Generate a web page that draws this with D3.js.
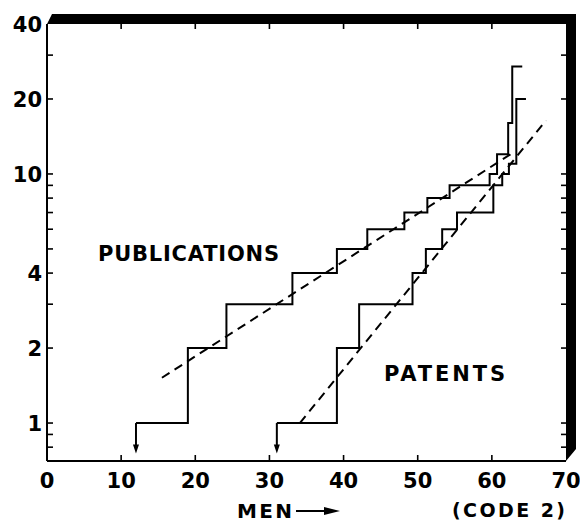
<!DOCTYPE html>
<html><head><meta charset="utf-8">
<script src="https://cdn.jsdelivr.net/npm/d3@7"></script>
<style>html,body{margin:0;padding:0;background:#fff;}svg{display:block;}</style>
</head><body>
<svg id="c" width="580" height="523"></svg>
<script>
// ---- data ----
const xTicks = [0, 10, 20, 30, 40, 50, 60, 70];
const yTickLabels = [1, 2, 4, 10, 20, 40];
const yMinorTicks = [0.8, 0.9, 3, 5, 6, 7, 8, 9, 30];
const pubX = [12, 19, 24.2, 33.1, 39.1, 43.2, 48.2, 51.3, 54.3, 59.7, 60.7, 62.2, 62.75];
const pubY = [1, 2, 3, 4, 5, 6, 7, 8, 9, 10, 12, 16, 27];
const pubEnd = 64.1;
const patX = [31, 39.1, 42.1, 49.3, 51.1, 53.3, 55.3, 60.2, 61.4, 62.3, 63.3];
const patY = [1, 2, 3, 4, 5, 6, 7, 9, 10, 11, 20];
const patEnd = 64.6;
const pubFitX = [15.5, 62.9];
const pubFitY = [1.52, 12.2];
const patFitX = [34.1, 67.3];
const patFitY = [1.0, 16.4];
const arrowTipY = 0.755;

// ---- scales ----
const svg = d3.select("#c");
const x = d3.scaleLinear().domain([0, 70]).range([47, 566]);
const y = d3.scaleLog().domain([0.704, 40]).range([461, 24]);
const X0 = x(0), X1 = x(70), YT = y(40), YB = y.range()[0];
const font = "'DejaVu Sans', sans-serif";

// frame: thick top and right bands with bevelled corners
svg.append("polygon")
  .attr("points", [[X0, YT], [X0 + 5, YT - 10], [X1 + 10, YT - 10], [X1 + 10, YB - 12], [X1, YB], [X1, YT]].map(p => p.join(",")).join(" "))
  .attr("fill", "#000");
svg.append("line").attr("x1", X0).attr("x2", X0).attr("y1", YT).attr("y2", YB).attr("stroke", "#000").attr("stroke-width", 2);
svg.append("line").attr("x1", X0).attr("x2", X1).attr("y1", YB).attr("y2", YB).attr("stroke", "#000").attr("stroke-width", 2);

// ticks
const inner = xTicks.filter(d => d > 0 && d < 70);
svg.selectAll(".tb").data(inner).join("line")
  .attr("x1", d => x(d)).attr("x2", d => x(d)).attr("y1", YB).attr("y2", YB - 6)
  .attr("stroke", "#000").attr("stroke-width", 1.6);
svg.selectAll(".tt").data(inner).join("line")
  .attr("x1", d => x(d)).attr("x2", d => x(d)).attr("y1", YT).attr("y2", YT + 5)
  .attr("stroke", "#000").attr("stroke-width", 1.6);
const allY = yTickLabels.filter(d => d < 40).concat(yMinorTicks);
svg.selectAll(".tl").data(allY).join("line")
  .attr("x1", X0).attr("x2", X0 + 6).attr("y1", d => y(d)).attr("y2", d => y(d))
  .attr("stroke", "#000").attr("stroke-width", 1.6);
svg.selectAll(".tr").data(allY).join("line")
  .attr("x1", X1).attr("x2", X1 - 5).attr("y1", d => y(d)).attr("y2", d => y(d))
  .attr("stroke", "#000").attr("stroke-width", 1.6);

// tick labels
svg.selectAll(".xl").data(xTicks).join("text")
  .attr("x", d => x(d)).attr("y", 488).attr("text-anchor", "middle")
  .attr("font-family", font).attr("font-weight", "bold").attr("font-size", 21)
  .text(d => d);
svg.selectAll(".yl").data(yTickLabels).join("text")
  .attr("x", 42).attr("y", d => y(d) + 8).attr("text-anchor", "end")
  .attr("font-family", font).attr("font-weight", "bold").attr("font-size", 21)
  .text(d => d);

// step curves
const stepLine = d3.line().x(d => x(d[0])).y(d => y(d[1])).curve(d3.curveStepAfter);
function drawStep(xs, ys, end) {
  const pts = xs.map((v, i) => [v, ys[i]]);
  pts.push([end, ys[ys.length - 1]]);
  svg.append("path").attr("d", stepLine(pts)).attr("fill", "none")
    .attr("stroke", "#000").attr("stroke-width", 2).attr("stroke-linejoin", "miter");
  const ax = x(xs[0]);
  svg.append("line").attr("x1", ax).attr("x2", ax).attr("y1", y(ys[0])).attr("y2", y(arrowTipY) - 6)
    .attr("stroke", "#000").attr("stroke-width", 2);
  const ty = y(arrowTipY);
  svg.append("polygon").attr("points", `${ax - 3},${ty - 9} ${ax + 3},${ty - 9} ${ax},${ty}`).attr("fill", "#000");
}
drawStep(pubX, pubY, pubEnd);
drawStep(patX, patY, patEnd);

// dashed fits
const fit = d3.line().x(d => x(d[0])).y(d => y(d[1]));
[[pubFitX, pubFitY], [patFitX, patFitY]].forEach(([xs, ys]) => {
  svg.append("path").attr("d", fit(xs.map((v, i) => [v, ys[i]])))
    .attr("fill", "none").attr("stroke", "#000").attr("stroke-width", 2)
    .attr("stroke-dasharray", "9,6");
});

// annotations
svg.append("text").attr("x", 98).attr("y", 261).attr("font-family", font).attr("font-weight", "bold")
  .attr("font-size", 21).attr("textLength", 181).attr("lengthAdjust", "spacing").text("PUBLICATIONS");
svg.append("text").attr("x", 384).attr("y", 381).attr("font-family", font).attr("font-weight", "bold")
  .attr("font-size", 21).attr("textLength", 121).attr("lengthAdjust", "spacing").text("PATENTS");
svg.append("text").attr("x", 237).attr("y", 518).attr("font-family", font).attr("font-weight", "bold")
  .attr("font-size", 20).attr("textLength", 55).attr("lengthAdjust", "spacing").text("MEN");
svg.append("line").attr("x1", 296).attr("x2", 330).attr("y1", 511).attr("y2", 511).attr("stroke", "#000").attr("stroke-width", 2);
svg.append("polygon").attr("points", "324,507 340,511 324,515").attr("fill", "#000");
svg.append("text").attr("x", 452).attr("y", 517).attr("font-family", font).attr("font-weight", "bold")
  .attr("font-size", 19).attr("textLength", 113).attr("lengthAdjust", "spacing").text("(CODE 2)");
</script>
</body></html>
